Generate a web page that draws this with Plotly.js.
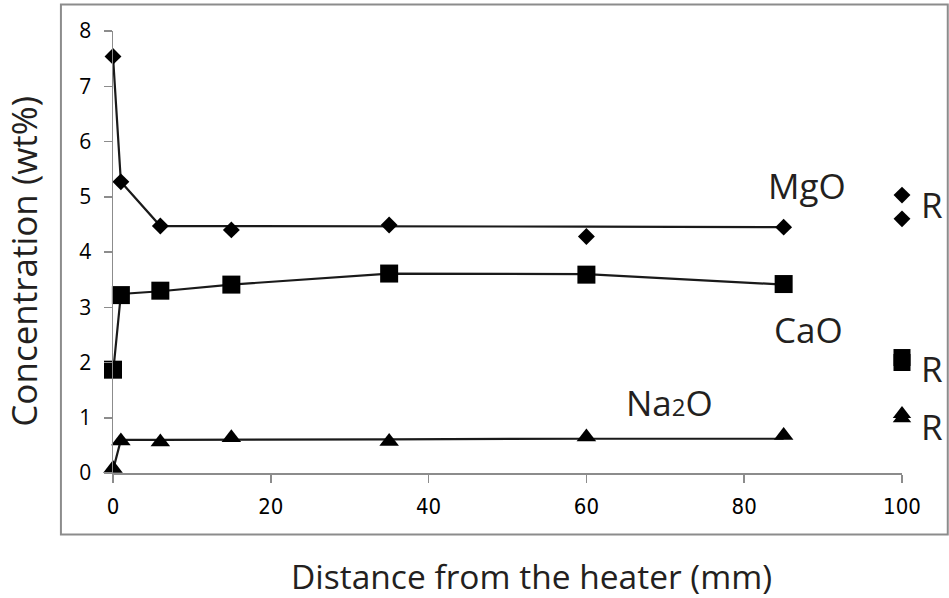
<!DOCTYPE html>
<html>
<head>
<meta charset="utf-8">
<script src="https://cdn.plot.ly/plotly-3.0.1.min.js"></script>
<style>html,body{margin:0;padding:0;background:#fff;}#chart{width:949px;height:598px;}</style>
</head>
<body>
<div id="chart"></div>
<script>
// Distances (mm)
const distance = [0, 1, 6, 15, 35, 60, 85];

// Measured concentrations (wt%)
const mgoPoints = [7.54, 5.27, 4.47, 4.40, 4.49, 4.28, 4.45];
const caoPoints = [1.87, 3.22, 3.30, 3.41, 3.61, 3.59, 3.42];
const na2oPoints = [0.08, 0.58, 0.56, 0.64, 0.57, 0.65, 0.68];

// Drawn guide lines
const mgoLine = [7.54, 5.27, 4.47, 4.47, 4.47, 4.46, 4.45];
const caoLine = [1.80, 3.24, 3.29, 3.41, 3.61, 3.60, 3.41];
const na2oLine = [0.05, 0.60, 0.60, 0.60, 0.61, 0.62, 0.62];

// Reference (R) samples
const refX = [100, 100];
const mgoRef = [5.03, 4.60];
const caoRef = [2.00, 2.09];
const na2oRef = [0.99, 1.07];

// Labels
const seriesLabels = ["MgO", "CaO", "Na<span style=\"font-size:24px\">2</span>O"];
const refLabel = "R";
const xTitle = "Distance from the heater (mm)";
const yTitle = "Concentration (wt%)";
const xTicks = [0, 20, 40, 60, 80, 100];
const yTicks = [0, 1, 2, 3, 4, 5, 6, 7, 8];

const lineStyle = {color: "#1a1a1a", width: 2.2};
const mk = (sym, size) => ({symbol: sym, size: size, color: "#000", line: {width: 0}});

const traces = [
  {x: distance, y: mgoLine, mode: "lines", line: lineStyle, hoverinfo: "skip"},
  {x: distance, y: caoLine, mode: "lines", line: lineStyle, hoverinfo: "skip"},
  {x: distance, y: na2oLine, mode: "lines", line: lineStyle, hoverinfo: "skip"},
  {x: distance, y: mgoPoints, mode: "markers", marker: mk("diamond", 13), name: "MgO"},
  {x: distance, y: caoPoints, mode: "markers", marker: mk("square", 18), name: "CaO"},
  {x: distance, y: na2oPoints, mode: "markers", marker: mk("triangle-up", 17), name: "Na2O"},
  {x: refX, y: mgoRef, mode: "markers", marker: mk("diamond", 13), name: "MgO R"},
  {x: refX, y: caoRef, mode: "markers", marker: mk("square", 17), name: "CaO R"},
  {x: refX, y: na2oRef, mode: "markers", marker: mk("triangle-up", 16), name: "Na2O R"}
].map(t => Object.assign({cliponaxis: false, showlegend: false}, t));

const txtFont = {family: "Open Sans, Noto Sans, sans-serif", size: 35, color: "#231f20"};

const annotations = [
  {x: 87.9, y: 5.21, text: seriesLabels[0]},
  {x: 88.1, y: 2.59, text: seriesLabels[1]},
  {x: 70.5, y: 1.27, text: seriesLabels[2]},
  {xref: "paper", x: 1.021, y: 4.86, text: refLabel, xanchor: "left"},
  {xref: "paper", x: 1.021, y: 1.90, text: refLabel, xanchor: "left"},
  {xref: "paper", x: 1.021, y: 0.85, text: refLabel, xanchor: "left"},
  {xref: "paper", yref: "paper", x: 0.53, y: -0.232, text: xTitle,
   font: Object.assign({}, txtFont, {size: 33.5})},
  {xref: "paper", yref: "paper", x: -0.113, y: 0.48, text: yTitle, textangle: -90}
].map(a => Object.assign({xref: "x", yref: "y", showarrow: false, font: txtFont, xanchor: "center", yanchor: "middle"}, a));

const layout = {
  width: 949, height: 598,
  margin: {l: 113, r: 47, t: 31, b: 124.5},
  paper_bgcolor: "#fff", plot_bgcolor: "#fff",
  showlegend: false,
  xaxis: {
    range: [0, 100], tickvals: xTicks, ticktext: xTicks.map(String),
    showgrid: false, zeroline: false, showline: true, linecolor: "#8c8c8c", linewidth: 1.5,
    ticks: "outside", ticklen: 8, tickcolor: "#8c8c8c", tickwidth: 1.5,
    tickfont: {family: "Liberation Sans Narrow, DejaVu Sans Condensed, sans-serif", size: 22, color: "#000"},
    ticklabelstandoff: 5
  },
  yaxis: {
    range: [0, 8], tickvals: yTicks, ticktext: yTicks.map(String),
    showgrid: false, zeroline: false, showline: true, linecolor: "#8c8c8c", linewidth: 1.5,
    ticks: "outside", ticklen: 8, tickcolor: "#8c8c8c", tickwidth: 1.5,
    tickfont: {family: "Open Sans, sans-serif", size: 21, color: "#000"},
    ticklabelstandoff: 8
  },
  annotations: annotations,
  shapes: [{
    type: "rect", xref: "paper", yref: "paper",
    x0: -0.066, x1: 1.058, y0: -0.139, y1: 1.060,
    line: {color: "#8c8c8c", width: 2}, fillcolor: "rgba(0,0,0,0)", layer: "below"
  }]
};

Plotly.newPlot("chart", traces, layout, {displayModeBar: false, staticPlot: true});
</script>
</body>
</html>
